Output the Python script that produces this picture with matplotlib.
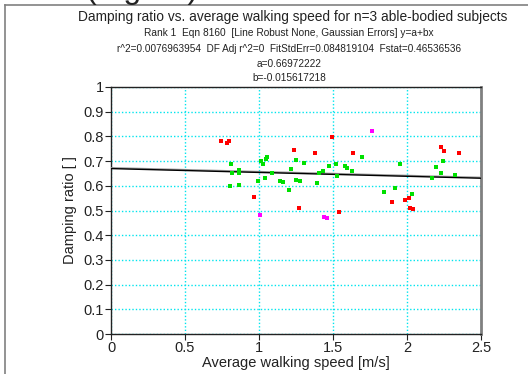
import matplotlib
matplotlib.use("Agg")
import matplotlib.pyplot as plt
from matplotlib.lines import Line2D
import numpy as np

plt.rcParams['font.family'] = ['Liberation Sans', 'DejaVu Sans']

# Data
red_x = [0.743, 0.784, 0.797, 0.964, 1.239, 1.270, 1.380, 1.493, 1.633, 1.543,
         1.901, 1.984, 2.011, 2.022, 2.043, 2.232, 2.252, 2.353]
red_y = [0.783, 0.775, 0.783, 0.556, 0.745, 0.510, 0.734, 0.799, 0.734, 0.495,
         0.533, 0.541, 0.552, 0.510, 0.506, 0.757, 0.741, 0.733]
mag_x = [1.009, 1.761, 1.441, 1.461]
mag_y = [0.483, 0.821, 0.475, 0.471]
green_x = [0.811, 0.818, 0.804, 0.863, 0.863, 0.863, 0.991, 1.016, 1.027, 1.047,
           1.054, 1.041, 1.086, 1.144, 1.162, 1.201, 1.218, 1.252, 1.252, 1.277,
           1.304, 1.405, 1.392, 1.430, 1.475, 1.518, 1.527, 1.581, 1.597, 1.628,
           1.696, 1.845, 1.919, 1.951, 2.034, 2.169, 2.194, 2.245, 2.232, 2.322]
green_y = [0.689, 0.652, 0.598, 0.664, 0.652, 0.602, 0.619, 0.702, 0.689, 0.710,
           0.718, 0.633, 0.652, 0.621, 0.617, 0.583, 0.668, 0.706, 0.625, 0.621,
           0.691, 0.652, 0.613, 0.660, 0.681, 0.688, 0.640, 0.681, 0.671, 0.660,
           0.718, 0.575, 0.590, 0.689, 0.567, 0.632, 0.676, 0.702, 0.651, 0.645]
fit_a = 0.66972222
fit_b = -0.015617218
fit_x = [0.0, 2.5]

x_ticks = [0, 0.5, 1, 1.5, 2, 2.5]
x_ticklabels = ['0', '0.5', '1', '1.5', '2', '2.5']
y_ticks = [0, 0.1, 0.2, 0.3, 0.4, 0.5, 0.6, 0.7, 0.8, 0.9, 1]
y_ticklabels = ['0', '0.1', '0.2', '0.3', '0.4', '0.5', '0.6', '0.7', '0.8', '0.9', '1']

W, H = 528, 374
fig = plt.figure(figsize=(W / 100, H / 100), dpi=100)
ax = fig.add_axes([111 / W, 1 - 334 / H, 370 / W, 247 / H])

ax.set_xlim(0, 2.5)
ax.set_ylim(0, 1)
ax.set_xticks(x_ticks)
ax.set_xticklabels(x_ticklabels)
ax.set_yticks(y_ticks)
ax.set_yticklabels(y_ticklabels)
ax.tick_params(direction='out', length=4, width=0.8, labelsize=10.5, pad=1, colors='#222222')
ax.grid(True, color='#00e5ee', linestyle=(0, (1, 1.5)), linewidth=1.0)
ax.set_axisbelow(True)

for s in ['left', 'bottom', 'top']:
    ax.spines[s].set_color('#222222')
    ax.spines[s].set_linewidth(1.0)
ax.spines['right'].set_color('#808080')
ax.spines['right'].set_linewidth(2.0)

fx = np.array(fit_x)
ax.plot(fx, fit_a + fit_b * fx + 0.003, color='#999999', lw=1.2, zorder=3)
ax.plot(fx, fit_a + fit_b * fx, color='black', lw=1.0, zorder=3)

ms = 3.2
ax.plot(green_x, green_y, 's', color='#00e000', ms=ms, mew=0, zorder=4, clip_on=False)
ax.plot(red_x, red_y, 's', color='#ff0000', ms=ms, mew=0, zorder=4, clip_on=False)
ax.plot(mag_x, mag_y, 's', color='#ff00ff', ms=ms, mew=0, zorder=4, clip_on=False)

ax.set_xlabel('Average walking speed [m/s]', fontsize=10.5, labelpad=1, color='#222222')
ax.set_ylabel('Damping ratio [ ]', fontsize=10.5, labelpad=5, color='#222222')

# titles
cx = 289 / W
fig.text(293 / W, 1 - 17 / H, 'Damping ratio vs. average walking speed for n=3 able-bodied subjects',
         ha='center', va='center', fontsize=9.9, color='#222222')
fig.text(cx, 1 - 33 / H, 'Rank 1  Eqn 8160  [Line Robust None, Gaussian Errors] y=a+bx',
         ha='center', va='center', fontsize=7.3, color='#222222')
fig.text(cx, 1 - 49 / H, 'r^2=0.0076963954  DF Adj r^2=0  FitStdErr=0.084819104  Fstat=0.46536536',
         ha='center', va='center', fontsize=7.2, color='#222222')
fig.text(cx, 1 - 64 / H, 'a=0.66972222', ha='center', va='center', fontsize=7.3, color='#222222')
fig.text(cx, 1 - 78 / H, 'b=-0.015617218', ha='center', va='center', fontsize=7.3, color='#222222')

# cropped caption text at the very top of the page
fig.text(86 / W, 1 + 2 / H, '(Figure)', ha='left', va='baseline', fontsize=23, color='#222222')

# page frame lines
fig.add_artist(Line2D([5 / W, 5 / W], [0, 1 - 5 / H], color='#808080', lw=1.2))
fig.add_artist(Line2D([5 / W, 1], [1 - 5 / H, 1 - 5 / H], color='#808080', lw=1.2))

fig.savefig('out.png', dpi=100)
